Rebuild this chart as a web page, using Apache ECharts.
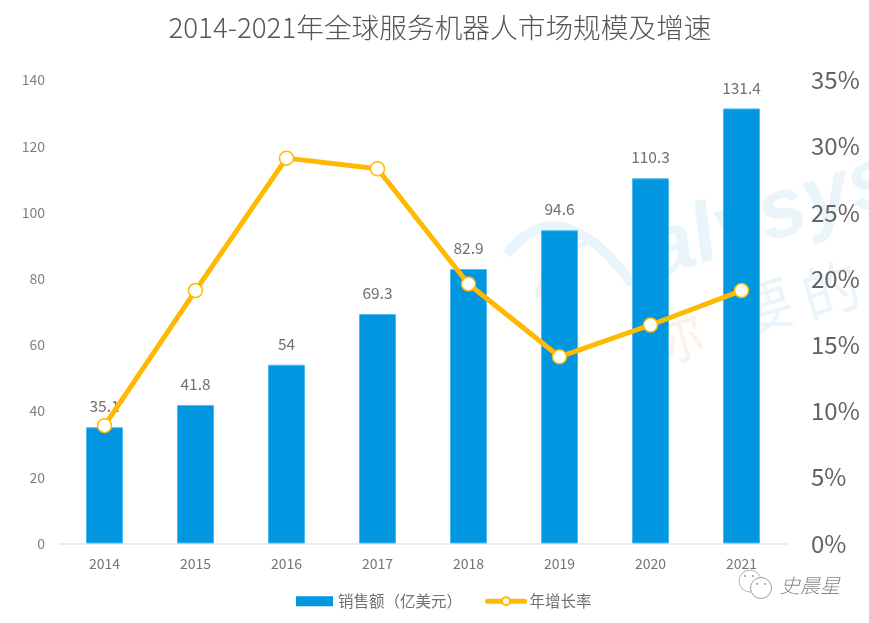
<!DOCTYPE html>
<html>
<head>
<meta charset="utf-8">
<style>html,body{margin:0;padding:0;background:#fff}#main{width:869px;height:623px}</style>
<script src="https://cdn.jsdelivr.net/npm/echarts@6/dist/echarts.min.js"></script>
</head>
<body>
<div id="main"></div>
<script>
var years = ['2014','2015','2016','2017','2018','2019','2020','2021'];
var sales = [35.1,41.8,54,69.3,82.9,94.6,110.3,131.4];
var growth = [8.9,19.1,29.1,28.3,19.6,14.1,16.5,19.1];
var barName = '销售额（亿美元）';
var lineName = '年增长率';
var font = '"Noto Sans CJK SC","Noto Sans",sans-serif';
var markBlue = '#eaf5fb';

var myChart = echarts.init(document.getElementById('main'));

// watermark + wechat signature, purely decoration
var decoration = [
    {type: 'bezierCurve', z: 0, silent: true,
     shape: {x1: 507, y1: 254, cpx1: 560, cpy1: 186, x2: 632, y2: 284},
     style: {stroke: markBlue, lineWidth: 10, fill: null}},
    {type: 'bezierCurve', z: 0, silent: true,
     shape: {x1: 537, y1: 298, cpx1: 545, cpy1: 250, x2: 598, y2: 240},
     style: {stroke: markBlue, lineWidth: 5, fill: null}},
    {type: 'text', z: 0, silent: true, x: 662, y: 296, rotation: 18 * Math.PI / 180,
     style: {text: 'alysys', fill: markBlue, font: 'italic bold 84px "Liberation Sans"', verticalAlign: 'bottom'}},
    {type: 'text', z: 0, silent: true, x: 638, y: 318, rotation: 16 * Math.PI / 180,
     style: {text: '你', fill: '#fdf2e9', font: '58px ' + font}},
    {type: 'text', z: 0, silent: true, x: 728, y: 287, rotation: 16 * Math.PI / 180,
     style: {text: '要', fill: markBlue, font: '58px ' + font}},
    {type: 'text', z: 0, silent: true, x: 795, y: 270, rotation: 16 * Math.PI / 180,
     style: {text: '的', fill: markBlue, font: '58px ' + font}},
    {type: 'circle', z: 10, silent: true, shape: {cx: 750, cy: 581, r: 11},
     style: {fill: '#fff', stroke: '#b5b5b5', lineWidth: 1}},
    {type: 'circle', z: 10, silent: true, shape: {cx: 761, cy: 588, r: 10.5},
     style: {fill: '#fff', stroke: '#a0a0a0', lineWidth: 1}},
    {type: 'circle', z: 11, silent: true, shape: {cx: 745, cy: 576, r: 1}, style: {fill: '#999'}},
    {type: 'circle', z: 11, silent: true, shape: {cx: 753, cy: 576, r: 1}, style: {fill: '#999'}},
    {type: 'circle', z: 11, silent: true, shape: {cx: 757, cy: 584, r: 1}, style: {fill: '#999'}},
    {type: 'circle', z: 11, silent: true, shape: {cx: 765, cy: 584, r: 1}, style: {fill: '#999'}},
    {type: 'text', z: 11, silent: true, x: 780, y: 575,
     style: {text: '史晨星', fill: '#888', font: 'italic 300 20px ' + font}}
];

var option = {
    backgroundColor: '#fff',
    animation: false,
    title: {
        text: '2014-2021年全球服务机器人市场规模及增速',
        left: 435, top: 9, textAlign: 'center',
        textStyle: {color: '#555', fontSize: 27.7, fontWeight: 300, fontFamily: font}
    },
    legend: [{
        left: 291, bottom: 9, itemWidth: 37, itemHeight: 10, itemGap: 0,
        icon: 'rect', itemStyle: {borderWidth: 0},
        textStyle: {color: '#707070', fontSize: 15.5, fontFamily: font},
        data: [barName]
    }, {
        left: 480, bottom: 9, itemWidth: 37, itemHeight: 10, itemGap: 0,
        lineStyle: {width: 5, cap: 'round'},
        textStyle: {color: '#707070', fontSize: 15.5, fontFamily: font},
        data: [lineName]
    }],
    grid: {left: 59, right: 82, top: 80, bottom: 79.5},
    xAxis: {
        type: 'category', data: years,
        axisTick: {show: false},
        axisLine: {lineStyle: {color: '#e6e6e6', width: 1.5}},
        axisLabel: {color: '#757575', fontSize: 14, margin: 13, fontFamily: font}
    },
    yAxis: [{
        type: 'value', min: 0, max: 140, interval: 20,
        splitLine: {show: false}, axisLine: {show: false}, axisTick: {show: false},
        axisLabel: {color: '#808080', fontSize: 14, margin: 14, fontFamily: font}
    }, {
        type: 'value', min: 0, max: 35, interval: 5,
        splitLine: {show: false}, axisLine: {show: false}, axisTick: {show: false},
        axisLabel: {color: '#636363', fontSize: 24, margin: 24, formatter: '{value}%', fontFamily: font}
    }],
    graphic: decoration,
    series: [{
        name: barName, type: 'bar', data: sales, barWidth: 37,
        itemStyle: {color: '#0096e0', borderColor: '#4db8ee', borderWidth: 1},
        label: {show: true, position: 'top', distance: 13, color: '#707070', fontSize: 15.5, fontFamily: font}
    }, {
        name: lineName, type: 'line', yAxisIndex: 1, data: growth,
        symbol: 'circle', symbolSize: 14,
        lineStyle: {color: '#ffb900', width: 5},
        itemStyle: {color: '#fff', borderColor: '#ffb900', borderWidth: 1.5}
    }]
};
myChart.setOption(option);
</script>
</body>
</html>
